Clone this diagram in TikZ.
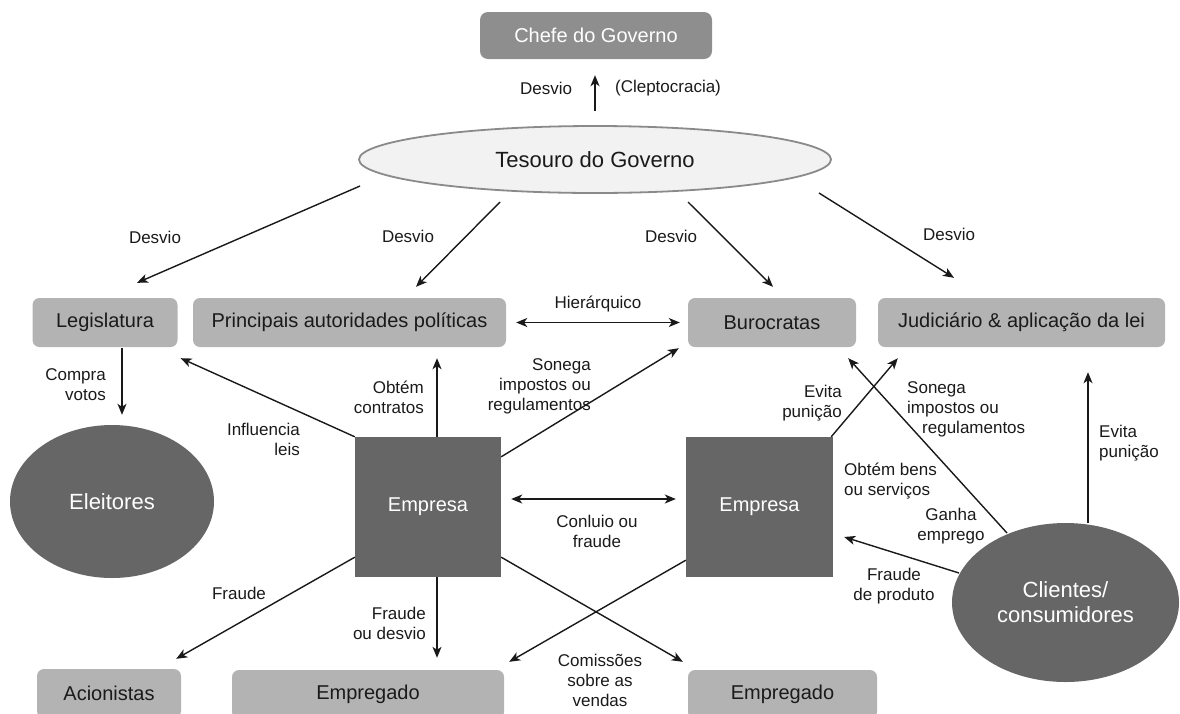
\documentclass[tikz,border=0pt]{standalone}
\usepackage{fontspec}
\setmainfont{Liberation Sans}
\usetikzlibrary{shapes.geometric,arrows.meta}
\definecolor{cmid}{HTML}{8E8E8E}
\definecolor{clight}{HTML}{B3B3B3}
\definecolor{cdark}{HTML}{666666}
\definecolor{cpale}{HTML}{F2F2F2}
\definecolor{cedge}{HTML}{8A8A8A}
\definecolor{ctext}{HTML}{1A1A1A}
\tikzset{
  midbox/.style={fill=cmid, rounded corners=8pt, text=white, inner sep=0pt,
    font=\fontsize{20}{24}\selectfont},
  lightbox/.style={fill=clight, rounded corners=7pt, text=ctext, inner sep=0pt,
    font=\fontsize{20}{24}\selectfont},
  firm/.style={fill=cdark, text=white, inner sep=0pt, minimum width=146pt, minimum height=140pt,
    font=\fontsize{20}{24}\selectfont},
  darkell/.style={ellipse, fill=cdark, text=white, inner sep=0pt, align=center,
    font=\fontsize{22}{25}\selectfont},
  lab/.style={inner sep=0pt, text=ctext, font=\fontsize{17}{20}\selectfont},
  arr/.style={draw=black!90, line width=1.4pt, -{Stealth[length=11pt,width=9pt,inset=3pt]}},
  darr/.style={draw=black!90, line width=1.4pt, {Stealth[length=11pt,width=9pt,inset=3pt]}-{Stealth[length=11pt,width=9pt,inset=3pt]}},
}
\begin{document}
\begin{tikzpicture}[x=1pt,y=-1pt]
\useasboundingbox (0,0) rectangle (1180,713);
\clip (0,0) rectangle (1180,713);
% nodes
\node[midbox, minimum width=232pt, minimum height=47pt] (chefe) at (596,35.5) {Chefe do Governo};
\node[ellipse, fill=cpale, draw=cedge, line width=1.8pt, inner sep=0pt, minimum width=472pt, minimum height=67pt,
  text=ctext, font=\fontsize{22}{26}\selectfont] (tes) at (595,159.5) {Tesouro do Governo};
\node[lightbox, minimum width=145pt, minimum height=49pt] (leg) at (105,322.5) {Legislatura};
\node[lightbox, minimum width=313pt, minimum height=49pt] (pr) at (349.5,322.5) {Principais autoridades políticas};
\node[lightbox, minimum width=168pt, minimum height=49pt] (bur) at (772,322.5) {Burocratas};
\node[lightbox, minimum width=287pt, minimum height=49pt] (jud) at (1021.5,322.5) {Judiciário \& aplicação da lei};
\node[darkell, minimum width=204pt, minimum height=153pt] (ele) at (112,501.5) {Eleitores};
\node[firm] (emp1) at (428,507) {Empresa};
\node[firm, minimum width=147pt] (emp2) at (759.5,507) {Empresa};
\node[darkell, minimum width=227pt, minimum height=159pt] (cli) at (1065.5,602.5) {Clientes/\\consumidores};
\node[lightbox, minimum width=144pt, minimum height=49pt] (aci) at (109,693.5) {Acionistas};
\node[lightbox, minimum width=272pt, minimum height=49pt] (empl1) at (368,694.5) {Empregado};
\node[lightbox, minimum width=189pt, minimum height=49pt] (empl2) at (782.5,694.5) {Empregado};
% connectors
\draw[arr] ([shift={(0,-14)}]tes.north) -- ([shift={(-1,16)}]chefe.south);
\draw[arr] ([shift={(-235,26.5)}]tes.center) -- ([shift={(32,-15)}]leg.north);
\draw[arr] ([shift={(-95,42.5)}]tes.center) -- ([shift={(66.5,-11)}]pr.north);
\draw[arr] ([shift={(93,42.5)}]tes.center) -- ([shift={(1,-11)}]bur.north);
\draw[arr] ([shift={(224,33.5)}]tes.center) -- ([shift={(-67.5,-20)}]jud.north);
\draw[darr] ([shift={(10,0)}]pr.east) -- ([shift={(-8,0)}]bur.west);
\draw[arr] ([shift={(17,1)}]leg.south) -- ([shift={(10,-10)}]ele.north);
\draw[arr] (emp1.north west) -- ([shift={(3,11)}]leg.south east);
\draw[arr] ([shift={(9,0)}]emp1.north) -- ([shift={(87.5,11)}]pr.south);
\draw[arr] ([shift={(0,20)}]emp1.north east) -- ([shift={(-9,1)}]bur.south west);
\draw[darr] ([shift={(10,-8)}]emp1.east) -- ([shift={(-10,-8)}]emp2.west);
\draw[arr] ([shift={(0,-20)}]emp1.south west) -- ([shift={(-5,-10)}]aci.north east);
\draw[arr] ([shift={(9,0)}]emp1.south) -- ([shift={(69,-12)}]empl1.north);
\draw[arr] ([shift={(0,-20)}]emp1.south east) -- ([shift={(-5,-8)}]empl2.north west);
\draw[arr] ([shift={(0,-17)}]emp2.south west) -- ([shift={(5,-8)}]empl1.north east);
\draw[arr] ([shift={(-2,0)}]emp2.north east) -- ([shift={(20,11)}]jud.south west);
\draw[arr] ([shift={(-58.5,-69.5)}]cli.center) -- ([shift={(-8,11)}]bur.south east);
\draw[arr] ([shift={(-106.5,-29.5)}]cli.center) -- ([shift={(11,30)}]emp2.east);
\draw[arr] ([shift={(22.5,0)}]cli.north) -- ([shift={(66.5,25)}]jud.south);
% labels
\node[lab] (l1) at (546,88) {Desvio};
\node[lab] (l2) at (668,88) {(Cleptocracia)};
\node[lab] (l3) at (155,237) {Desvio};
\node[lab] (l4) at (408,236) {Desvio};
\node[lab] (l5) at (671,236) {Desvio};
\node[lab] (l6) at (949,234) {Desvio};
\node[lab] (l7) at (598,304) {Hierárquico};
\node[lab, align=right, anchor=east] (l8) at (106,385) {Compra\\votos};
\node[lab, align=right, anchor=east] (l9) at (300,439) {Influencia\\leis};
\node[lab, align=right, anchor=east] (l10) at (424,397) {Obtém\\contratos};
\node[lab, align=right, anchor=east] (l11) at (591,386) {Sonega\\impostos ou\\regulamentos\hspace{25pt}};
\node[lab, align=center] (l12) at (597,531) {Conluio ou\\fraude};
\node[lab] (l13) at (239,593) {Fraude};
\node[lab, align=right, anchor=east] (l14) at (426,623) {Fraude\\ou desvio};
\node[lab, align=center] (l15) at (600,680) {Comissões\\sobre as\\vendas};
\node[lab, align=right, anchor=east] (l16) at (842,403.5) {Evita\\punição};
\node[lab, align=left, anchor=west] (l17) at (907,409) {Sonega\\impostos ou\\\hspace{15pt}regulamentos};
\node[lab, align=left, anchor=west] (l18) at (844,481) {Obtém bens\\ou serviços};
\node[lab, align=center] (l19) at (951,526) {Ganha\\emprego};
\node[lab, align=center] (l20) at (894,586) {Fraude\\de produto};
\node[lab, align=left, anchor=west] (l21) at (1099,443.5) {Evita\\punição};
\end{tikzpicture}
\end{document}
